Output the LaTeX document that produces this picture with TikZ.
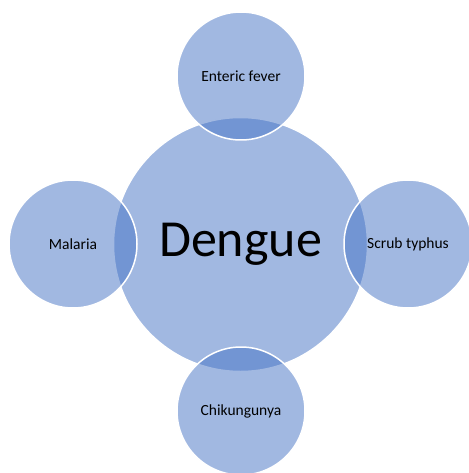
\documentclass[tikz,border=0pt]{standalone}
\usepackage{fontspec}
\setmainfont{Carlito}
\usepackage{tikz}

\definecolor{accentblue}{HTML}{4472C4}

\begin{document}
\begin{tikzpicture}[x=1pt,y=-1pt,
    hub/.style={circle, minimum size=254pt, inner sep=0pt, fill=accentblue,
      fill opacity=0.5, text opacity=1, draw=white, line width=1.5pt, font=\fontsize{52}{56}\selectfont},
    disease/.style={circle, minimum size=128pt, inner sep=0pt, fill=accentblue,
      fill opacity=0.5, text opacity=1, draw=white, line width=1.5pt, font=\fontsize{15.5}{18}\selectfont}]
        \useasboundingbox (0,0) rectangle (468,473);
        \node[hub] (dengue) at (240.5,244.5) {Dengue};
        \node[disease] (enteric) at (241, 76) {Enteric fever};
        \node[disease] (malaria) at ( 73,244) {Malaria};
        \node[disease] (scrub)   at (408,244) {Scrub typhus};
        \node[disease] (chikun)  at (241,411) {Chikungunya};
      \end{tikzpicture}
\end{document}
